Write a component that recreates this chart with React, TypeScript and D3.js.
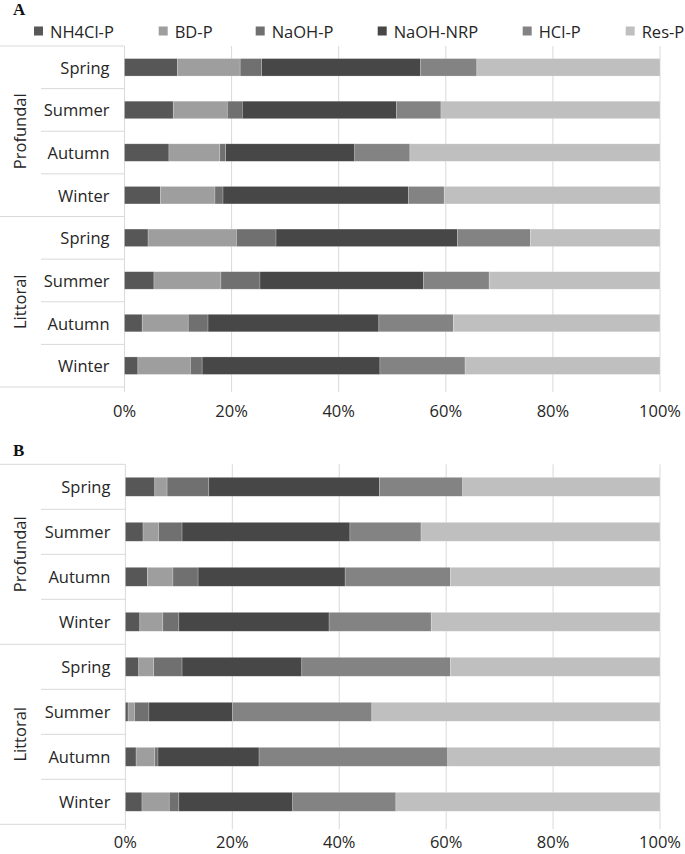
import React from 'react';
import * as d3 from 'd3';

const components = ['NH4Cl-P', 'BD-P', 'NaOH-P', 'NaOH-NRP', 'HCl-P', 'Res-P'];
const colors = ['#575757', '#9e9e9e', '#707070', '#474747', '#838383', '#bfbfbf'];
const seasons = ['Spring', 'Summer', 'Autumn', 'Winter'];
const sites = ['Profundal', 'Littoral'];
const ticks = [0, 20, 40, 60, 80, 100];

// Panel A (rows: Profundal Spring..Winter, Littoral Spring..Winter)
const aNH4Cl = [9.9, 9.1, 8.3, 6.7, 4.4, 5.5, 3.3, 2.5];
const aBD = [11.7, 10.1, 9.5, 10.2, 16.5, 12.5, 8.6, 9.8];
const aNaOH = [4.0, 2.8, 1.1, 1.5, 7.4, 7.3, 3.7, 2.2];
const aNRP = [29.7, 28.8, 24.1, 34.6, 33.9, 30.5, 31.9, 33.2];
const aHCl = [10.5, 8.3, 10.3, 6.7, 13.6, 12.3, 13.9, 15.9];
const aRes = [34.2, 40.9, 46.7, 40.3, 24.2, 31.9, 38.6, 36.4];

// Panel B
const bNH4Cl = [5.5, 3.3, 4.1, 2.7, 2.5, 0.5, 2.0, 3.1];
const bBD = [2.3, 2.9, 4.8, 4.3, 2.8, 1.2, 3.5, 5.1];
const bNaOH = [7.8, 4.4, 4.7, 3.0, 5.3, 2.7, 0.6, 1.8];
const bNRP = [31.9, 31.4, 27.5, 28.1, 22.4, 15.6, 18.9, 21.3];
const bHCl = [15.6, 13.3, 19.7, 19.1, 27.8, 26.1, 35.3, 19.3];
const bRes = [36.9, 44.7, 39.2, 42.8, 39.2, 53.9, 39.7, 49.4];

const legendX = [34, 158.7, 255.7, 377.7, 522.7, 625.7];

const FONT = '"Open Sans", sans-serif';
const TEXT = '#262626';
const GRID = '#d9d9d9';

function buildRows(series: number[][]) {
  const rows: any[] = [];
  sites.forEach((site, si) => {
    seasons.forEach((season, qi) => {
      const i = si * seasons.length + qi;
      const r: any = { key: `${site}-${season}`, season, site };
      components.forEach((c, ci) => (r[c] = series[ci][i]));
      rows.push(r);
    });
  });
  return rows;
}

type PanelProps = {
  label: string;
  labelY: number;
  top: number;
  bottom: number;
  x0: number;
  x1: number;
  pad: number;
  series: number[][];
  tickY: number;
};

function Panel({ label, labelY, top, bottom, x0, x1, pad, series, tickY }: PanelProps) {
  const rows = buildRows(series);
  const x = d3.scaleLinear().domain([0, 100]).range([x0, x1]);
  const y = d3
    .scaleBand<string>()
    .domain(rows.map((r) => r.key))
    .range([top, bottom])
    .paddingInner(pad)
    .paddingOuter(pad / 2);
  const step = y.step();
  const stack = d3.stack<any>().keys(components);
  const layers = stack(rows);
  const n = rows.length;
  const groupH = step * seasons.length;

  return (
    <g>
      <text x={13} y={labelY} fontFamily='"Liberation Serif", "Times New Roman", serif' fontWeight="bold" fontSize={17} fill="#111">
        {label}
      </text>
      {ticks.map((t) => (
        <line key={t} x1={x(t)} x2={x(t)} y1={top} y2={bottom + 5} stroke={GRID} strokeWidth={1} />
      ))}
      {d3.range(n + 1).map((i) => {
        const yy = top + i * step;
        const isGroup = i % seasons.length === 0;
        return <line key={i} x1={isGroup ? 0 : 41} x2={x0} y1={yy} y2={yy} stroke={GRID} strokeWidth={1} />;
      })}
      {layers.map((layer, li) => (
        <g key={layer.key} fill={colors[li]}>
          {layer.map((d, i) => (
            <rect
              key={i}
              x={x(d[0])}
              y={y(rows[i].key)}
              width={Math.max(0, x(d[1]) - x(d[0]))}
              height={y.bandwidth()}
              stroke="#ffffff"
              strokeOpacity={0.35}
              strokeWidth={0.6}
            />
          ))}
        </g>
      ))}
      {rows.map((r) => (
        <text
          key={r.key}
          x={x0 - 15}
          y={(y(r.key) as number) + y.bandwidth() / 2}
          textAnchor="end"
          dominantBaseline="central"
          fontFamily={FONT}
          fontSize={16.5}
          fill={TEXT}
        >
          {r.season}
        </text>
      ))}
      {sites.map((s, si) => {
        const cy = top + groupH * si + groupH / 2;
        return (
          <text
            key={s}
            transform={`translate(19,${cy}) rotate(-90)`}
            textAnchor="middle"
            dominantBaseline="central"
            fontFamily={FONT}
            fontSize={16.5}
            fill={TEXT}
          >
            {s}
          </text>
        );
      })}
      {ticks.map((t) => (
        <text
          key={t}
          x={x(t)}
          y={tickY}
          textAnchor="middle"
          fontFamily={FONT}
          fontSize={16.5}
          fill={TEXT}
        >
          {t}%
        </text>
      ))}
    </g>
  );
}

export default function App() {
  const seriesA = [aNH4Cl, aBD, aNaOH, aNRP, aHCl, aRes];
  const seriesB = [bNH4Cl, bBD, bNaOH, bNRP, bHCl, bRes];
  return (
    <svg width={685} height={854} style={{ position: 'absolute', left: 0, top: 0, background: '#fff' }}>
      <rect width={685} height={854} fill="#fff" />
      {components.map((c, i) => (
        <g key={c}>
          <rect x={legendX[i]} y={26.5} width={9} height={9} fill={colors[i]} />
          <text x={legendX[i] + 16} y={31} dominantBaseline="central" fontFamily={FONT} fontSize={16.5} fill={TEXT}>
            {c}
          </text>
        </g>
      ))}
      <Panel label="A" labelY={15} top={46} bottom={387} x0={124.5} x1={660} pad={0.59} series={seriesA} tickY={416.5} />
      <Panel label="B" labelY={456} top={464.3} bottom={824.3} x0={125.4} x1={660} pad={0.58} series={seriesB} tickY={848} />
    </svg>
  );
}
